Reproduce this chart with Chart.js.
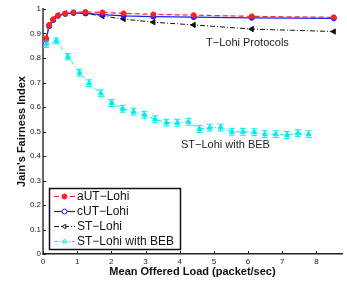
<!DOCTYPE html>
<html>
<head>
<meta charset="utf-8">
<script src="https://cdn.jsdelivr.net/npm/chart.js@4"></script>
<style>
  body { margin: 0; background: #fff; }
  canvas { display: block; }
</style>
</head>
<body>
<canvas id="fairnessChart" width="347" height="283"></canvas>
<script>
// offered load values (packet/sec) for the T-Lohi runs
const loadX = [0.09, 0.18, 0.30, 0.44, 0.65, 0.89, 1.24, 1.74, 2.36, 3.23, 4.41, 6.11, 8.51];
const autLohi = [0.880, 0.935, 0.958, 0.974, 0.982, 0.986, 0.988, 0.986, 0.982, 0.978, 0.975, 0.970, 0.966];
const cutLohi = [0.875, 0.930, 0.955, 0.972, 0.980, 0.984, 0.982, 0.977, 0.972, 0.969, 0.967, 0.964, 0.962];
const stLohi  = [0.880, 0.935, 0.958, 0.974, 0.982, 0.985, 0.982, 0.971, 0.959, 0.946, 0.935, 0.918, 0.908];

// ST-Lohi with binary exponential backoff
const bebX = [0.09, 0.39, 0.73, 1.07, 1.35, 1.69, 2.01, 2.33, 2.65, 2.97, 3.28, 3.61, 3.93,
              4.26, 4.58, 4.88, 5.20, 5.53, 5.85, 6.18, 6.49, 6.81, 7.14, 7.46, 7.77];
const bebY = [0.856, 0.870, 0.805, 0.740, 0.697, 0.656, 0.616, 0.593, 0.581, 0.568, 0.550, 0.536, 0.536,
              0.540, 0.510, 0.516, 0.516, 0.499, 0.499, 0.497, 0.489, 0.489, 0.486, 0.493, 0.489];
const bebErr = [0.013, 0.012, 0.013, 0.014, 0.014, 0.014, 0.014, 0.014, 0.014, 0.014, 0.014, 0.014, 0.014,
                0.014, 0.014, 0.014, 0.014, 0.014, 0.014, 0.014, 0.014, 0.014, 0.014, 0.014, 0.014];

const xTicks = [0, 1, 2, 3, 4, 5, 6, 7, 8];
const legendNames = ["aUT\u2212Lohi", "cUT\u2212Lohi", "ST\u2212Lohi", "ST\u2212Lohi with BEB"];

const FONT = '"Liberation Sans", Arial, Helvetica, sans-serif';

function pts(xs, ys) {
  return xs.map((x, i) => ({ x: x, y: ys[i] }));
}

// error bars for the BEB curve
const errorBars = {
  id: "errorBars",
  afterDatasetsDraw(chart) {
    const { ctx, scales: { x, y } } = chart;
    ctx.save();
    ctx.strokeStyle = "#00eeee";
    ctx.lineWidth = 1;
    bebX.forEach((v, i) => {
      const px = x.getPixelForValue(v);
      const top = y.getPixelForValue(bebY[i] + bebErr[i]);
      const bot = y.getPixelForValue(bebY[i] - bebErr[i]);
      ctx.beginPath();
      ctx.moveTo(px, top); ctx.lineTo(px, bot);
      ctx.moveTo(px - 3, top); ctx.lineTo(px + 3, top);
      ctx.moveTo(px - 3, bot); ctx.lineTo(px + 3, bot);
      ctx.stroke();
    });
    ctx.restore();
  }
};

// matlab style inward ticks, text notes and boxed legend
const extras = {
  id: "extras",
  afterDraw(chart) {
    const { ctx, chartArea, scales: { x, y } } = chart;
    ctx.save();
    ctx.strokeStyle = "#222";
    ctx.lineWidth = 1;
    xTicks.forEach(t => {
      const px = Math.round(x.getPixelForValue(t)) + 0.5;
      ctx.beginPath();
      ctx.moveTo(px, chartArea.bottom);
      ctx.lineTo(px, chartArea.bottom - 3);
      ctx.stroke();
    });
    for (let k = 0; k <= 10; k++) {
      const py = Math.round(y.getPixelForValue(k / 10)) + 0.5;
      ctx.beginPath();
      ctx.moveTo(chartArea.left, py);
      ctx.lineTo(chartArea.left + 3, py);
      ctx.stroke();
    }

    ctx.fillStyle = "#222";
    ctx.font = "11px " + FONT;
    ctx.textBaseline = "middle";
    ctx.textAlign = "left";
    ctx.fillText("T\u2212Lohi Protocols", 206, 43);
    ctx.fillText("ST\u2212Lohi with BEB", 181, 145);

    // legend box
    ctx.fillStyle = "#fff";
    ctx.fillRect(49.5, 188.5, 131, 61);
    ctx.strokeStyle = "#111";
    ctx.lineWidth = 1.5;
    ctx.strokeRect(49.5, 188.5, 131, 61);

    chart.data.datasets.forEach((ds, i) => {
      const ly = 196.5 + 15 * i;
      ctx.save();
      ctx.strokeStyle = ds.borderColor;
      ctx.lineWidth = ds.borderWidth;
      ctx.setLineDash(ds.borderDash || []);
      ctx.beginPath();
      ctx.moveTo(54, ly);
      ctx.lineTo(75, ly);
      ctx.stroke();
      ctx.setLineDash([]);
      ctx.fillStyle = i === 0 ? ds.borderColor : "#fff";
      ctx.lineWidth = 1;
      Chart.helpers.drawPoint(ctx, {
        pointStyle: ds.pointStyle,
        radius: 2.5,
        rotation: ds.pointRotation || 0,
        borderWidth: 1
      }, 64.5, ly);
      ctx.restore();
      ctx.fillStyle = "#111";
      ctx.font = "12px " + FONT;
      ctx.textBaseline = "middle";
      ctx.fillText(legendNames[i], 77, ly + 0.5);
    });
    ctx.restore();
  }
};

new Chart(document.getElementById("fairnessChart"), {
  type: "line",
  data: {
    datasets: [
      {
        label: legendNames[0],
        data: pts(loadX, autLohi),
        borderColor: "#ff2020",
        backgroundColor: "#ff2020",
        borderWidth: 1.2,
        borderDash: [5, 3],
        pointStyle: "circle",
        pointRadius: 2.5,
        pointBorderWidth: 1
      },
      {
        label: legendNames[1],
        data: pts(loadX, cutLohi),
        borderColor: "#1a1aff",
        backgroundColor: "#1a1aff",
        borderWidth: 1.2,
        pointStyle: "circle",
        pointRadius: 2.5,
        pointBorderWidth: 1
      },
      {
        label: legendNames[2],
        data: pts(loadX, stLohi),
        borderColor: "#111",
        backgroundColor: "#111",
        borderWidth: 1,
        borderDash: [5, 2, 1, 2],
        pointStyle: "triangle",
        pointRotation: -90,
        pointRadius: 3,
        pointBorderWidth: 1
      },
      {
        label: legendNames[3],
        data: pts(bebX, bebY),
        borderColor: "#00eeee",
        backgroundColor: "#00eeee",
        borderWidth: 1,
        borderDash: [4, 2, 1, 2],
        pointStyle: "triangle",
        pointRadius: 3,
        pointBorderWidth: 1
      }
    ]
  },
  options: {
    responsive: false,
    animation: false,
    layout: { padding: { top: 9, right: 1, left: 0, bottom: 0 } },
    plugins: {
      legend: { display: false },
      tooltip: { enabled: false }
    },
    scales: {
      x: {
        type: "linear",
        min: 0,
        max: 8.75,
        afterFit: s => { s.height = 29; },
        afterBuildTicks: s => { s.ticks = xTicks.map(v => ({ value: v })); },
        ticks: {
          font: { size: 8, family: FONT },
          color: "#222",
          padding: 3,
          maxRotation: 0,
          autoSkip: false
        },
        grid: { display: false, drawTicks: false },
        border: { display: true, color: "#222", width: 1.5 },
        title: {
          display: true,
          text: "Mean Offered Load (packet/sec)",
          font: { size: 11, weight: "bold", family: FONT },
          color: "#111",
          padding: { top: 0, bottom: 4 }
        }
      },
      y: {
        min: 0,
        max: 1,
        afterFit: s => { s.width = 43; },
        ticks: {
          stepSize: 0.1,
          font: { size: 8, family: FONT },
          color: "#222",
          padding: 2,
          callback: v => {
            const r = Math.round(v * 10) / 10;
            return r === 0 ? "0" : r === 1 ? "1" : r.toFixed(1);
          }
        },
        grid: { display: false, drawTicks: false },
        border: { display: true, color: "#666", width: 2 },
        title: {
          display: true,
          text: "Jain's Fairness Index",
          font: { size: 11, weight: "bold", family: FONT },
          color: "#111",
          padding: { top: 15, bottom: 0 }
        }
      }
    }
  },
  plugins: [errorBars, extras]
});
</script>
</body>
</html>
